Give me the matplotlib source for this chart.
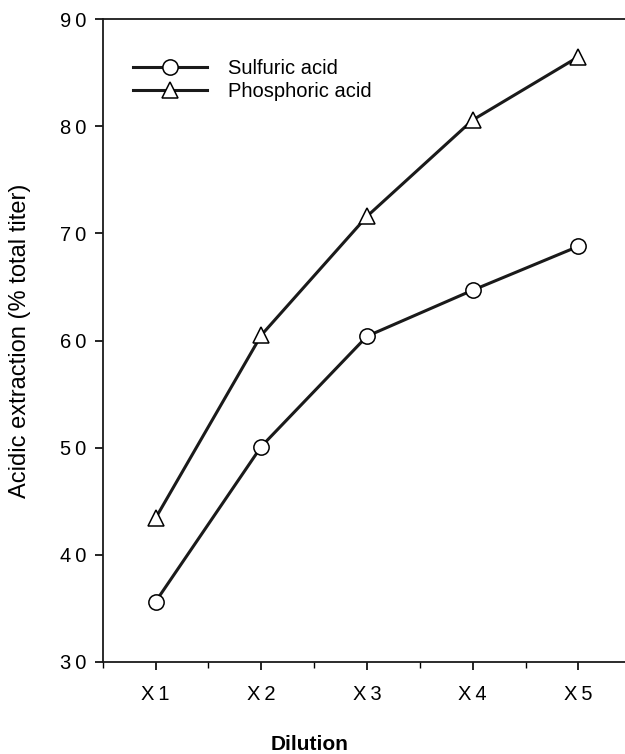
import numpy as np
import matplotlib
matplotlib.use("Agg")
import matplotlib.pyplot as plt
from matplotlib.ticker import MultipleLocator

plt.rcParams['font.family'] = ['Liberation Sans', 'DejaVu Sans']

dilutions = [1, 2, 3, 4, 5]
dilution_labels = ["X\u20091", "X\u20092", "X\u20093", "X\u20094", "X\u20095"]
sulfuric = [35.6, 50.1, 60.4, 64.7, 68.8]
phosphoric = [43.4, 60.5, 71.6, 80.6, 86.5]
y_ticks = [30, 40, 50, 60, 70, 80, 90]

fig = plt.figure(figsize=(6.25, 7.54), dpi=100)
ax = fig.add_axes([0.1643, 0.1224, 0.8357, 0.852])

line_kw = dict(color='#1a1a1a', linewidth=2.2, markersize=11,
               markerfacecolor='white', markeredgecolor='black',
               markeredgewidth=1.1)
ax.plot(dilutions, sulfuric, marker='o', label='Sulfuric acid', **line_kw)
ax.plot(dilutions, phosphoric, marker='^', label='Phosphoric acid', **line_kw)

ax.set_xlim(0.5, 5.44)
ax.set_ylim(30, 90)
ax.set_xticks(dilutions)
ax.set_xticklabels(dilution_labels)
ax.xaxis.set_minor_locator(MultipleLocator(0.5))
ax.set_yticks(y_ticks)
ax.set_yticklabels(["\u2009".join(str(v)) for v in y_ticks])

ax.spines['right'].set_visible(False)
for s in ['left', 'bottom', 'top']:
    ax.spines[s].set_linewidth(1.3)
    ax.spines[s].set_color('#1a1a1a')

ax.tick_params(axis='y', direction='out', length=6, width=1.2, pad=6,
               labelsize=14.5)
ax.tick_params(axis='x', which='major', direction='out', length=6, width=1.2,
               pad=11, labelsize=14.5)
ax.tick_params(axis='x', which='minor', direction='out', length=4, width=1.0)

ax.set_ylabel("Acidic extraction (% total titer)", fontsize=17)
ax.yaxis.set_label_coords(-0.137, 0.5)
fig.text(310 / 625, 1 - 745 / 754, "Dilution", fontsize=15, fontweight='bold',
         ha='center', va='center')

ax.legend(loc='upper left', bbox_to_anchor=(0.0575, 0.938), frameon=False,
          fontsize=14.5, handlelength=3.7, handletextpad=1.05,
          labelspacing=0.19, borderaxespad=0.0, borderpad=0.0)

fig.savefig("out.png", dpi=100)
